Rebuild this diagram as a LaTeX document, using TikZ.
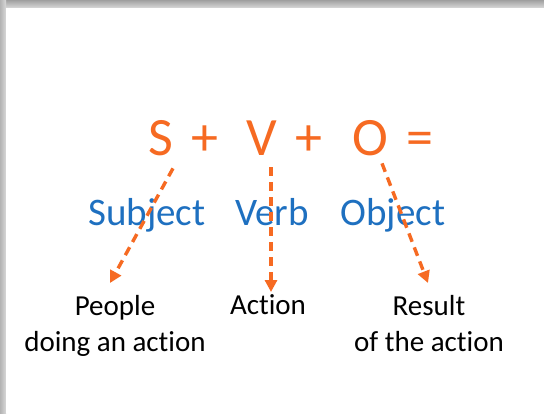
\documentclass[tikz,border=0pt]{standalone}
\usepackage{fontspec}
\setmainfont{Carlito}[Ligatures={NoCommon,NoDiscretionary,NoRare}]
\usetikzlibrary{arrows.meta,calc}

\definecolor{svoorange}{RGB}{246,106,34}
\definecolor{svoblue}{RGB}{30,112,192}

\begin{document}
\begin{tikzpicture}[x=1pt,y=-1pt,line cap=butt,>={Triangle[length=12pt,width=12pt]}]

\tikzset{
    letter/.style={inner sep=0pt,outer sep=0pt,anchor=base,text=svoorange,font=\fontsize{54}{60}\selectfont},
    part/.style={inner sep=0pt,outer sep=0pt,anchor=base,text=svoblue,font=\fontsize{39}{44}\selectfont},
    meaning/.style={inner sep=0pt,outer sep=0pt,anchor=north,align=center,font=\fontsize{29}{36}\selectfont},
    dasharrow/.style={->,svoorange,line width=3.4pt,dash pattern=on 9pt off 6pt}
}

\useasboundingbox (0,0) rectangle (544,413);

% frame with soft shadow on top and left
\shade[top color=gray!75,bottom color=gray!30] (0,0) rectangle (544,8);
\shade[left color=gray!60,right color=gray!30] (0,0) rectangle (6,413);
\fill[white] (6,8) rectangle (544,413);

% formula
\node[letter] (s) at (161,155) {S};
\node[letter] (plusa) at (205,155) {+};
\node[letter] (v) at (262,155) {V};
\node[letter] (plusb) at (309,155) {+};
\node[letter] (o) at (370,155) {O};
\node[letter] (eq) at (420,155) {=};

% parts of the sentence
\node[part] (subject) at (147,225) {Subject};
\node[part] (verb) at (272,225) {Verb};
\node[part] (object) at (393,225) {Object};

% meanings
\node[meaning] (people) at (115,295) {People\\doing an action};
\node[meaning] (action) at (268,295) {Action};
\node[meaning] (result) at (429,295) {Result\\of the action};

\draw[dasharrow] ([xshift=12pt,yshift=-13pt]s.south) -- ([xshift=-5pt,yshift=12pt]people.north);
\draw[dasharrow] ([xshift=9pt,yshift=-12pt]v.south) -- ([xshift=3pt,yshift=3pt]action.north);
\draw[dasharrow] ([xshift=12pt,yshift=-8pt]o.south) -- ([xshift=-1pt,yshift=12pt]result.north);

\end{tikzpicture}
\end{document}
